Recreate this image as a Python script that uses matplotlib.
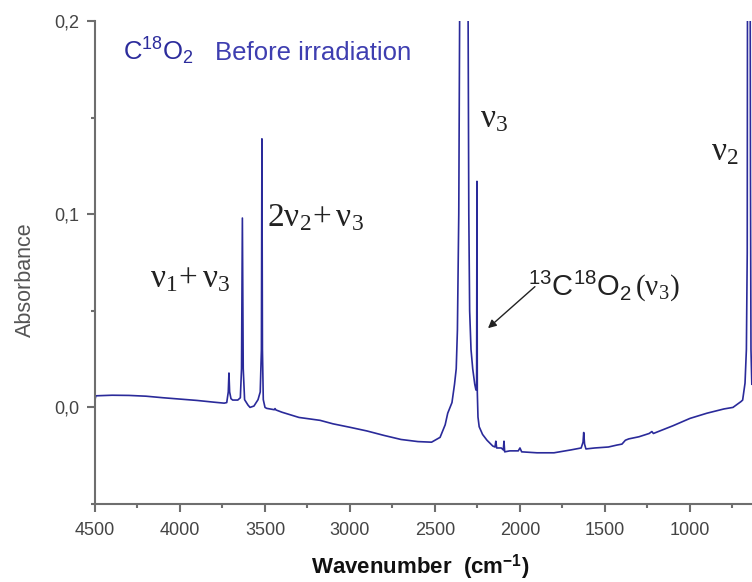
import matplotlib
matplotlib.use('Agg')
import matplotlib.pyplot as plt
from matplotlib.ticker import MultipleLocator, FuncFormatter

plt.rcParams['font.family'] = ['Liberation Sans', 'DejaVu Sans']
plt.rcParams['mathtext.fontset'] = 'custom'
plt.rcParams['mathtext.rm'] = 'Liberation Serif'
plt.rcParams['mathtext.it'] = 'Liberation Serif:italic'
plt.rcParams['mathtext.bf'] = 'Liberation Sans:bold'
plt.rcParams['mathtext.sf'] = 'Liberation Sans'

# spectrum (cm-1, absorbance); saturated bands go above 0.2
wavenumber = [4500, 4495, 4400, 4300, 4200, 4100, 4000, 3900, 3800, 3740, 3725,
              3716, 3712, 3708, 3700, 3690, 3660, 3645, 3638, 3633, 3628, 3620,
              3600, 3588, 3565, 3541, 3528, 3521, 3518, 3515, 3510, 3500, 3490,
              3445, 3441, 3436, 3400, 3300, 3176, 3100, 3000, 2900, 2800, 2700,
              2600, 2520, 2470, 2440, 2425, 2400, 2385, 2375, 2368, 2360, 2355,
              2350, 2310, 2305, 2301, 2296, 2288, 2278, 2266, 2259, 2255, 2253,
              2251, 2247, 2240, 2220, 2194, 2160, 2147, 2142, 2137, 2110, 2098,
              2094, 2090, 2060, 2010, 2000, 1990, 1900, 1800, 1700, 1640, 1629,
              1625, 1620, 1612, 1560, 1480, 1430, 1400, 1380, 1360, 1300, 1240,
              1224, 1215, 1100, 1000, 900, 800, 747, 700, 690, 676, 668, 663,
              660, 648, 644, 641, 636]
absorbance = [0.004, 0.006, 0.0063, 0.0062, 0.0058, 0.005, 0.0043, 0.0036,
              0.0027, 0.0022, 0.0025, 0.008, 0.0178, 0.008, 0.0045, 0.0038,
              0.0038, 0.005, 0.02, 0.098, 0.02, 0.004, 0.0012, 0.0, 0.0007,
              0.004, 0.008, 0.03, 0.139, 0.03, 0.004, 0.0, -0.0005, -0.0012,
              -0.0006, -0.0013, -0.0025, -0.0052, -0.0067, -0.0085, -0.0103,
              -0.0122, -0.0145, -0.0166, -0.0177, -0.018, -0.0155, -0.009,
              -0.003, 0.0025, 0.012, 0.02, 0.04, 0.1, 0.2, 0.35, 0.35, 0.2,
              0.1, 0.05, 0.03, 0.02, 0.012, 0.009, 0.012, 0.117, 0.008, -0.005,
              -0.01, -0.014, -0.017, -0.02, -0.0205, -0.0175, -0.021, -0.021,
              -0.022, -0.0175, -0.023, -0.0225, -0.0225, -0.021, -0.023,
              -0.0235, -0.0235, -0.022, -0.021, -0.018, -0.013, -0.019, -0.0215,
              -0.021, -0.0205, -0.0195, -0.019, -0.017, -0.0163, -0.0152,
              -0.0135, -0.0125, -0.0135, -0.0095, -0.0057, -0.003, -0.0008, 0.0,
              0.003, 0.0038, 0.0126, 0.03, 0.08, 0.35, 0.35, 0.12, 0.03, 0.012]

x_major = [4500, 4000, 3500, 3000, 2500, 2000, 1500, 1000]
y_major = [0.0, 0.1, 0.2]

line_col = '#2a2a9a'
grey = '#555555'
axis_col = '#6e6e6e'

fig = plt.figure(figsize=(7.52, 5.82), dpi=100)
ax = fig.add_axes([95 / 752, 78 / 582, 657 / 752, 483 / 582])

ax.plot(wavenumber, absorbance, color=line_col, lw=1.2)

ax.set_xlim(4500, 635)
ax.set_ylim(-0.05, 0.2)
ax.set_xticks(x_major)
ax.xaxis.set_minor_locator(MultipleLocator(250))
ax.set_yticks(y_major)
ax.yaxis.set_minor_locator(MultipleLocator(0.05))
ax.yaxis.set_major_formatter(FuncFormatter(lambda v, p: f'{v:.1f}'.replace('.', ',')))

for side in ['top', 'right']:
    ax.spines[side].set_visible(False)
for side in ['left', 'bottom']:
    ax.spines[side].set_color(axis_col)
    ax.spines[side].set_linewidth(1.5)

ax.tick_params(which='major', direction='out', length=6, width=1.5,
               color=axis_col, labelcolor='#444444', labelsize=13)
ax.tick_params(which='minor', direction='out', length=3, width=1.5, color=axis_col)
ax.tick_params(axis='x', which='major', pad=7)
ax.tick_params(axis='y', which='major', pad=5)

ax.text((25.5 - 95) / 657, 0.464, 'Absorbance', transform=ax.transAxes,
        rotation=90, ha='center', va='center', fontsize=15.5, color=grey)
fig.text(420 / 752, 9 / 582, r'Wavenumber  (cm$^{\mathbf{-1}}$)', ha='center',
         va='baseline', fontsize=16, fontweight='bold', color='#111111')

ax.text(0.0426, 0.919, r'$\mathsf{C^{18}O_2}$', transform=ax.transAxes,
        ha='left', va='baseline', fontsize=18.5, color='#2c2c9c')
ax.text(0.183, 0.919, 'Before irradiation', transform=ax.transAxes,
        ha='left', va='baseline', fontsize=18.5, color='#3e3eb0')

serif_col = '#222222'
ax.text(4176, 0.0623, r'$\mathrm{\nu_1\!+\nu_3}$', ha='left', va='baseline',
        fontsize=24, color=serif_col)
ax.text(3488, 0.0939, r'$\mathrm{2\nu_2\!+\nu_3}$', ha='left', va='baseline',
        fontsize=24, color=serif_col)
ax.text(2235, 0.1452, r'$\mathrm{\nu_3}$', ha='left', va='baseline',
        fontsize=24, color=serif_col)
ax.text(876, 0.128, r'$\mathrm{\nu_2}$', ha='left', va='baseline',
        fontsize=24, color=serif_col)
ax.text(1953, 0.0582, r'$\mathsf{{}^{13}C^{18}O_2}\,\mathrm{(\nu_3)}$',
        ha='left', va='baseline', fontsize=21, color=serif_col)

ax.annotate('', xy=(2188, 0.041), xytext=(1912, 0.0625),
            arrowprops=dict(arrowstyle='-|>', color='#222222', lw=1.0,
                            mutation_scale=12, shrinkA=0, shrinkB=0))

fig.savefig('out.png', dpi=100)
